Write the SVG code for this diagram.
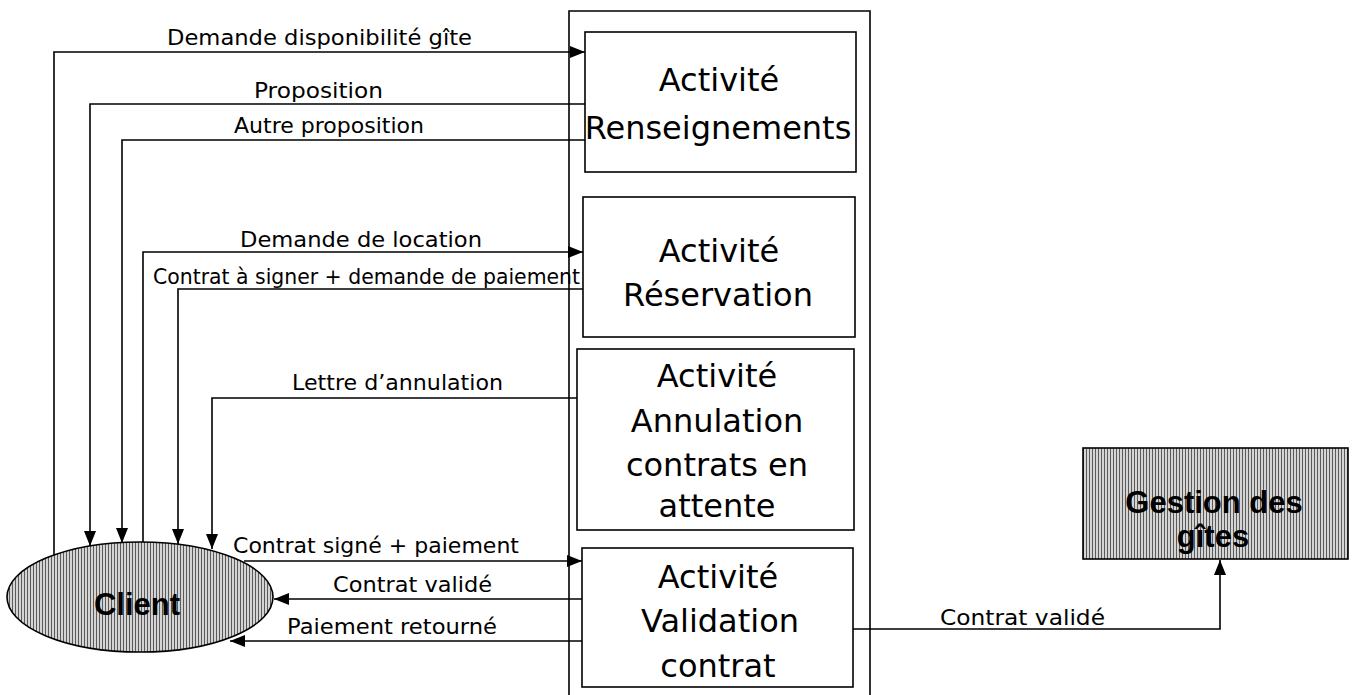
<svg xmlns="http://www.w3.org/2000/svg" width="1356" height="695" viewBox="0 0 1356 695">
<style>
.ln{fill:none;stroke:#000;stroke-width:1.6}
.lbl{font-family:"DejaVu Sans","Liberation Sans",sans-serif;font-size:22px;fill:#000}
.box{fill:#fff;stroke:#000;stroke-width:1.6}
.bt{font-family:"DejaVu Sans","Liberation Sans",sans-serif;font-size:32px;fill:#000;text-anchor:middle}
.sh{fill:url(#hatch);stroke:#000;stroke-width:1.6}
.bold{font-family:"Liberation Sans",Arial,sans-serif;font-weight:bold;font-size:31px;fill:#000;text-anchor:middle}
</style>
<defs>
<marker id="ah" markerUnits="userSpaceOnUse" markerWidth="16" markerHeight="13" refX="15" refY="6" orient="auto">
<path d="M0,0 L15,6 L0,12 z" fill="#000"/>
</marker>
<pattern id="hatch" patternUnits="userSpaceOnUse" width="3" height="4">
<rect width="3" height="4" fill="#d4d4d4"/>
<rect width="1" height="4" fill="#5a5a5a"/>
</pattern>
</defs>
<rect width="1356" height="695" fill="#fff"/>

<g id="container">
<path class="ln" d="M569,695 V11 H870 V695"/>
</g>

<g id="renseignements">
<rect class="box" x="585" y="32" width="271" height="140"/>
<text class="bt" x="719" y="91">Activité</text>
<text class="bt" x="718" y="139">Renseignements</text>
</g>

<g id="reservation">
<rect class="box" x="583" y="197" width="272" height="140"/>
<text class="bt" x="719" y="262">Activité</text>
<text class="bt" x="718" y="306">Réservation</text>
</g>

<g id="annulation">
<rect class="box" x="577" y="349" width="277" height="181"/>
<text class="bt" x="717" y="387">Activité</text>
<text class="bt" x="717" y="432">Annulation</text>
<text class="bt" x="717" y="476">contrats en</text>
<text class="bt" x="717" y="517">attente</text>
</g>

<g id="validation">
<rect class="box" x="582" y="548" width="271" height="139"/>
<text class="bt" x="718" y="588">Activité</text>
<text class="bt" x="720" y="632">Validation</text>
<text class="bt" x="718" y="677">contrat</text>
</g>

<g id="client">
<ellipse class="sh" cx="140" cy="597" rx="133" ry="55"/>
<text class="bold" x="137" y="615">Client</text>
</g>

<g id="gestion">
<rect class="sh" x="1083" y="448" width="265" height="111"/>
<text class="bold" x="1214" y="513">Gestion des</text>
<text class="bold" x="1213" y="547">gîtes</text>
</g>

<g id="connectors">
<path class="ln" d="M54,555 V52 H585" marker-end="url(#ah)"/>
<path class="ln" d="M585,104 H90 V546" marker-end="url(#ah)"/>
<path class="ln" d="M585,140 H122 V543" marker-end="url(#ah)"/>
<path class="ln" d="M143,542 V252 H583" marker-end="url(#ah)"/>
<path class="ln" d="M583,289 H178 V544" marker-end="url(#ah)"/>
<path class="ln" d="M577,398 H212 V549" marker-end="url(#ah)"/>
<path class="ln" d="M244,561 H582" marker-end="url(#ah)"/>
<path class="ln" d="M582,599 H274" marker-end="url(#ah)"/>
<path class="ln" d="M582,641 H230" marker-end="url(#ah)"/>
<path class="ln" d="M853,629 H1220 V560" marker-end="url(#ah)"/>
</g>

<g id="labels">
<text class="lbl" x="167" y="45" textLength="305" lengthAdjust="spacingAndGlyphs">Demande disponibilité gîte</text>
<text class="lbl" x="254" y="98" textLength="129" lengthAdjust="spacingAndGlyphs">Proposition</text>
<text class="lbl" x="234" y="133" textLength="190" lengthAdjust="spacingAndGlyphs">Autre proposition</text>
<text class="lbl" x="240" y="247" textLength="242" lengthAdjust="spacingAndGlyphs">Demande de location</text>
<text class="lbl" x="153" y="284" textLength="427" lengthAdjust="spacingAndGlyphs">Contrat à signer + demande de paiement</text>
<text class="lbl" x="292" y="390" textLength="211" lengthAdjust="spacingAndGlyphs">Lettre d’annulation</text>
<text class="lbl" x="233" y="553" textLength="286" lengthAdjust="spacingAndGlyphs">Contrat signé + paiement</text>
<text class="lbl" x="333" y="592" textLength="159" lengthAdjust="spacingAndGlyphs">Contrat validé</text>
<text class="lbl" x="287" y="634" textLength="210" lengthAdjust="spacingAndGlyphs">Paiement retourné</text>
<text class="lbl" x="940" y="625" textLength="165" lengthAdjust="spacingAndGlyphs">Contrat validé</text>
</g>
</svg>
